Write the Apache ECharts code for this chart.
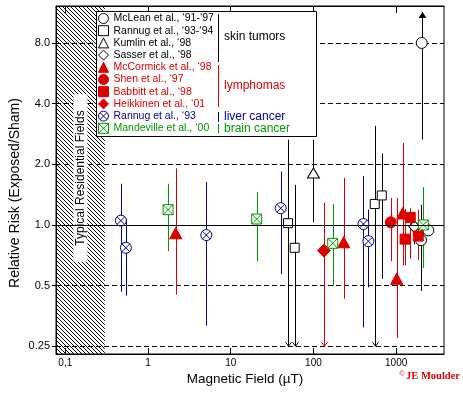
<!DOCTYPE html>
<html>
<head>
<meta charset="utf-8">
<script src="https://cdn.jsdelivr.net/npm/echarts@6/dist/echarts.min.js"></script>
<style>
html, body { margin: 0; padding: 0; background: #fff; }
#chart { width: 463px; height: 397px; }
</style>
</head>
<body>
<div id="chart"></div>
<script>
var FIELD_MIN = 0.0772, FIELD_MAX = 3790;
var RR_MIN = 0.2287, RR_MAX = 12.2;
var RR_FLOOR = 0.25, RR_CEIL = 11.4;   // bars reaching these get arrows
var RESIDENTIAL_MAX = 0.3;

var fieldTicks = [0.1, 1, 10, 100, 1000];
var riskTicks = [0.25, 0.5, 1, 2, 4, 8];

// [field (uT), relative risk, lower, upper]
var mcLean = [[2040, 8.0, 2.65, 11.4], [2000, 0.84, 0.47, 1.26], [2450, 0.94, 0.94, 0.94]];
var rannugSkin = [[49.3, 1.02, 0.25, 2.65], [59.4, 0.77, 0.25, 1.58], [551, 1.27, 0.25, 3.1], [670, 1.40, 0.54, 2.26]];
var kumlin = [[100, 1.81, 1.03, 2.65]];
var sasser = [[1660, 0.98, 0.8, 1.15]];
var mcCormick = [[2.16, 0.91, 0.45, 1.91], [232, 0.82, 0.43, 1.71], [1016, 0.54, 0.274, 1.36], [1200, 1.14, 0.63, 2.55]];
var shen = [[861, 1.03, 0.66, 1.36]];
var babbitt = [[1850, 0.88, 0.67, 1.19], [1282, 0.85, 0.63, 1.2], [1480, 1.09, 0.68, 1.21]];
var heikkinen = [[134, 0.745, 0.25, 1.29]];
var rannugLiver = [[0.47, 1.05, 0.466, 1.6], [0.54, 0.77, 0.445, 1.07], [5.07, 0.89, 0.316, 1.63], [40.2, 1.21, 0.57, 1.84], [402, 1.01, 0.31, 1.75], [462, 0.83, 0.49, 1.19]];
var mandeville = [[1.75, 1.19, 0.74, 1.6], [20.6, 1.07, 0.66, 1.45], [171, 0.81, 0.5, 1.27], [2133, 1.0, 0.61, 1.54]];

var BLACK = '#000000', RED = '#dd0000', BLUE = '#000099', GREEN = '#009900';
var FONT = 'Liberation Sans, Arial, sans-serif';

var CIRCLE_X = 'path://M0,10 A10,10 0 1,1 20,10 A10,10 0 1,1 0,10 Z M2.9,2.9 L17.1,17.1 M17.1,2.9 L2.9,17.1';
var SQUARE_X = 'path://M0,0 L20,0 L20,20 L0,20 Z M0,0 L20,20 M20,0 L0,20';

var studies = [
    {name: 'McLean et al., \u201891-\u201897', data: mcLean, color: BLACK, fill: '#fff', symbol: 'circle', size: 11},
    {name: 'Rannug et al., \u201893-\u201894', data: rannugSkin, color: BLACK, fill: '#fff', symbol: 'rect', size: 9},
    {name: 'Kumlin et al., \u201898', data: kumlin, color: BLACK, fill: '#fff', symbol: 'triangle', size: [12, 10]},
    {name: 'Sasser et al., \u201898', data: sasser, color: BLACK, fill: '#fff', symbol: 'diamond', size: [11, 12]},
    {name: 'McCormick et al., \u201898', data: mcCormick, color: RED, fill: RED, symbol: 'triangle', size: [12, 11]},
    {name: 'Shen et al., \u201897', data: shen, color: RED, fill: RED, symbol: 'circle', size: 11},
    {name: 'Babbitt et al., \u201898', data: babbitt, color: RED, fill: RED, symbol: 'rect', size: 10},
    {name: 'Heikkinen et al., \u201801', data: heikkinen, color: RED, fill: RED, symbol: 'diamond', size: 13},
    {name: 'Rannug et al., \u201893', data: rannugLiver, color: BLUE, fill: '#fff', symbol: CIRCLE_X, size: 11},
    {name: 'Mandeville et al., \u201800', data: mandeville, color: GREEN, fill: '#fff', symbol: SQUARE_X, size: 10}
];

var groupNames = ['skin tumors', 'lymphomas', 'liver cancer', 'brain cancer'];
var groupColors = [BLACK, RED, BLUE, GREEN];

function hatchPattern() {
    var c = document.createElement('canvas');
    c.width = 4; c.height = 4;
    var ctx = c.getContext('2d');
    ctx.fillStyle = '#000';
    for (var i = 0; i < 4; i++) ctx.fillRect(i, i, 1, 1);
    return c;
}

function renderBar(params, api) {
    var x = api.value(0), lo = api.value(1), hi = api.value(2);
    if (hi <= lo) return null;
    var top = api.coord([x, hi]);
    var bot = api.coord([x, lo]);
    var px = Math.round(top[0]) + 0.5;
    var color = api.visual('color');
    var children = [{
        type: 'line',
        shape: {x1: px, y1: top[1], x2: px, y2: bot[1]},
        style: {stroke: color, lineWidth: 1}
    }];
    if (lo <= RR_FLOOR) {
        children.push({
            type: 'polyline',
            shape: {points: [[px - 3, bot[1] - 4], [px, bot[1]], [px + 3, bot[1] - 4]]},
            style: {stroke: color, fill: null, lineWidth: 1}
        });
    }
    if (hi >= RR_CEIL) {
        children.push({
            type: 'polygon',
            shape: {points: [[px, top[1]], [px - 4, top[1] + 6], [px + 4, top[1] + 6]]},
            style: {fill: color}
        });
    }
    return {type: 'group', children: children};
}

var series = [];

// hatched residential band + reference line at RR = 1
series.push({
    type: 'scatter',
    data: [],
    z: 1,
    silent: true,
    markArea: {
        silent: true,
        itemStyle: {color: {image: hatchPattern(), repeat: 'repeat'}},
        label: {
            show: true, position: 'inside', rotate: 90, offset: [2, 0],
            color: '#000', fontSize: 12, fontFamily: FONT,
            backgroundColor: '#fff', padding: [1, 16, 1, 16]
        },
        data: [[{xAxis: FIELD_MIN, name: 'Typical Residential Fields'}, {xAxis: RESIDENTIAL_MAX}]]
    },
    markLine: {
        silent: true,
        symbol: 'none',
        label: {show: false},
        lineStyle: {color: '#000', type: 'solid', width: 1},
        data: [{yAxis: 1}]
    }
});

studies.forEach(function (s) {
    series.push({
        type: 'custom',
        name: s.name + ' CI',
        z: 2,
        itemStyle: {color: s.color},
        encode: {x: 0, y: [1, 2]},
        renderItem: renderBar,
        data: s.data.map(function (d) { return [d[0], d[2], d[3]]; })
    });
});

studies.forEach(function (s) {
    series.push({
        type: 'scatter',
        name: s.name,
        z: 3,
        symbol: s.symbol,
        symbolSize: s.size,
        itemStyle: {color: s.fill, borderColor: s.color, borderWidth: 1, opacity: 1},
        data: s.data.map(function (d) { return [d[0], d[1]]; })
    });
});

var graphics = [
    {type: 'rect', z: 10, shape: {x: 96.5, y: 11.5, width: 220, height: 125},
     style: {fill: '#fff', stroke: '#000', lineWidth: 1}}
];
var groupSpans = [[14, 62], [65, 107], [112, 122], [124, 133]];
groupNames.forEach(function (g, i) {
    var span = groupSpans[i];
    graphics.push({type: 'line', z: 11,
        shape: {x1: 218.5, y1: span[0], x2: 218.5, y2: span[1]},
        style: {stroke: groupColors[i], lineWidth: 1}});
    graphics.push({type: 'text', z: 11, x: 224, y: (span[0] + span[1]) / 2 + (i === 0 ? -1 : 0),
        style: {text: g, fill: groupColors[i], font: '12px ' + FONT, verticalAlign: 'middle'}});
});
graphics.push({type: 'text', x: 15, y: 193, rotation: Math.PI / 2,
    style: {text: 'Relative Risk (Exposed/Sham)', fill: '#000', font: '14px ' + FONT, align: 'center', verticalAlign: 'middle'}});
graphics.push({type: 'text', x: 245, y: 379.5,
    style: {text: 'Magnetic Field (\u00b5T)', fill: '#000', font: '13.5px ' + FONT, align: 'center', verticalAlign: 'middle'}});
graphics.push({type: 'text', x: 399, y: 376,
    style: {
        text: '{c|\u00a9}{t|JE Moulder}', verticalAlign: 'middle',
        rich: {
            c: {fill: RED, fontSize: 8, fontFamily: 'Liberation Serif, serif', verticalAlign: 'top', padding: [0, 1, 4, 0]},
            t: {fill: RED, fontSize: 10.5, fontWeight: 'bold', fontFamily: 'Liberation Serif, serif'}
        }
    }});

var chart = echarts.init(document.getElementById('chart'));
chart.setOption({
    animation: false,
    backgroundColor: '#fff',
    grid: {left: 56, right: 19, top: 6, bottom: 43, show: true, borderColor: '#000', borderWidth: 1, backgroundColor: 'transparent'},
    legend: {
        z: 20,
        left: 98, top: 13,
        orient: 'vertical',
        padding: 0,
        itemWidth: 10, itemHeight: 10, itemGap: 1.2,
        selectedMode: false,
        itemStyle: {borderWidth: 1},
        textStyle: {fontSize: 10.5, lineHeight: 10, fontFamily: FONT},
        data: studies.map(function (s) { return {name: s.name, textStyle: {color: s.color}}; })
    },
    xAxis: [{
        type: 'log', logBase: 10, min: FIELD_MIN, max: FIELD_MAX,
        axisLine: {lineStyle: {color: '#000'}},
        axisTick: {inside: true, length: 6, customValues: fieldTicks, lineStyle: {color: '#000'}},
        axisLabel: {customValues: fieldTicks, color: '#000', fontSize: 10, fontFamily: FONT, margin: 4,
            formatter: function (v) { return String(v).replace('.', ','); }},
        splitLine: {show: false}
    }, {
        type: 'log', logBase: 10, min: FIELD_MIN, max: FIELD_MAX, position: 'top',
        axisLine: {lineStyle: {color: '#000'}},
        axisTick: {inside: true, length: 7, customValues: fieldTicks, lineStyle: {color: '#000'}},
        axisLabel: {show: false},
        splitLine: {show: false}
    }],
    yAxis: {
        type: 'log', logBase: 2, min: RR_MIN, max: RR_MAX,
        axisLine: {lineStyle: {color: '#000'}},
        axisTick: {length: 4, customValues: riskTicks, lineStyle: {color: '#000'}},
        axisLabel: {customValues: riskTicks, color: '#000', fontSize: 11, fontFamily: FONT, margin: 6,
            formatter: function (v) { return v >= 1 ? v.toFixed(1) : String(v); }},
        splitLine: {show: true, lineStyle: {color: '#000', type: [5, 3], width: 1}}
    },
    graphic: graphics,
    series: series
});
</script>
</body>
</html>
